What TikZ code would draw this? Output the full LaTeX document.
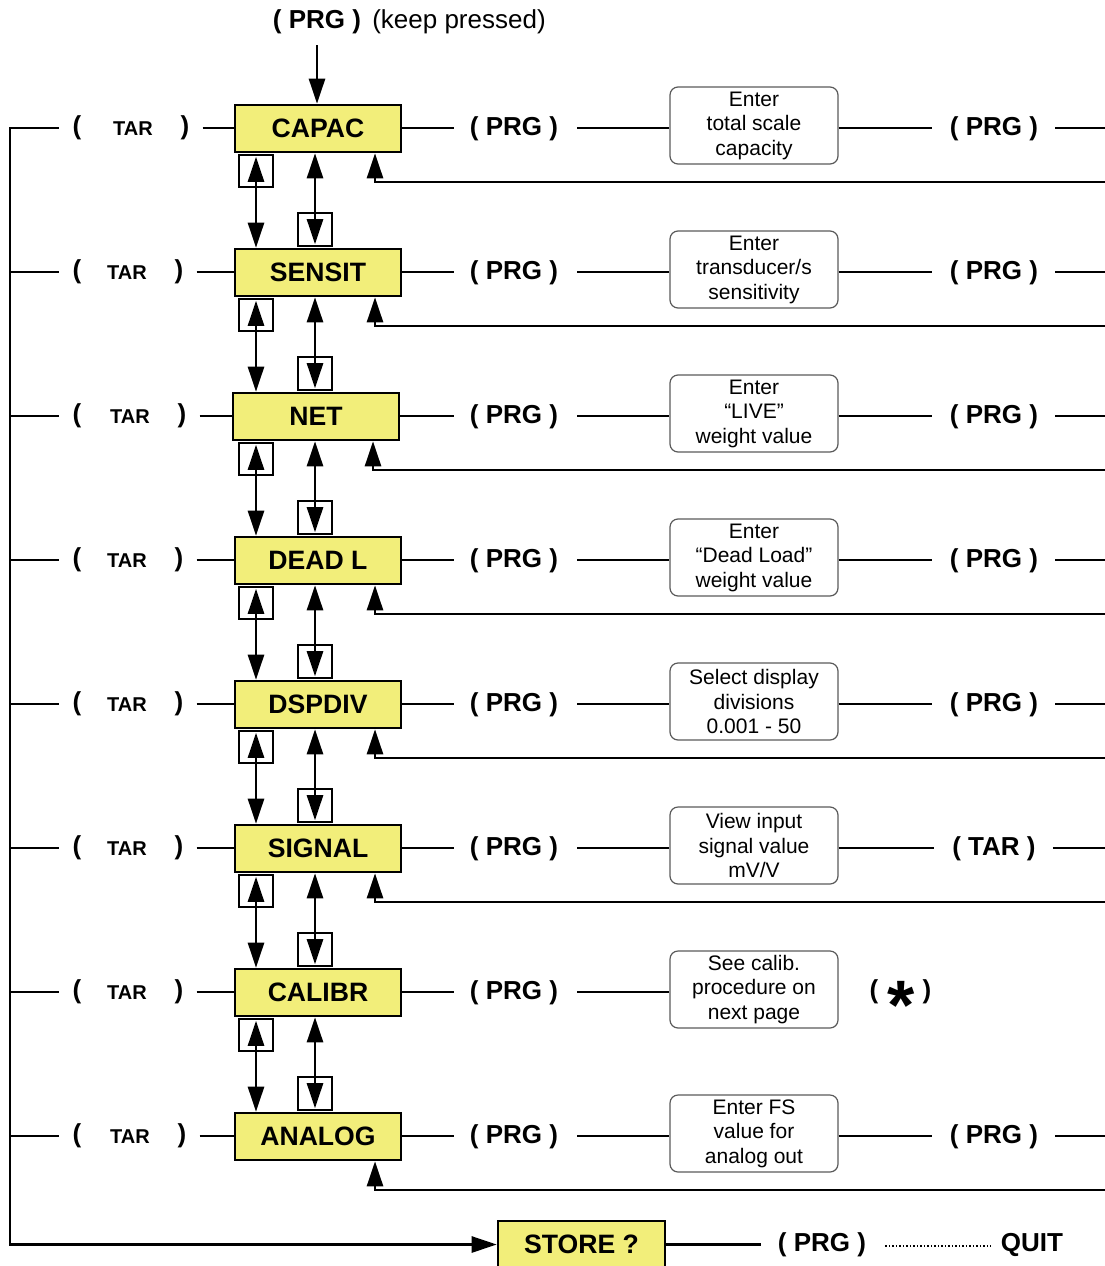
\documentclass[tikz,border=0pt]{standalone}
\usepackage{fontspec}
\setmainfont{Liberation Sans}
\usetikzlibrary{arrows.meta,calc}
\definecolor{menuyellow}{RGB}{242,238,122}
\definecolor{infoedge}{RGB}{90,90,90}
\begin{document}
\begin{tikzpicture}[x=1pt,y=-1pt,line width=2.6pt,
  tip/.style={-{Triangle[length=25pt,width=16pt]}},
  both/.style={{Triangle[length=25pt,width=16pt]}-{Triangle[length=25pt,width=16pt]}},
  menubox/.style={draw=black,line width=2.6pt,fill=menuyellow,minimum width=166pt,minimum height=47pt,inner sep=0pt,font=\fontsize{26.6}{28}\selectfont\bfseries},
  infobox/.style={draw=infoedge,line width=1.2pt,rounded corners=8pt,minimum width=168pt,minimum height=77pt,inner sep=0pt,align=center,font=\fontsize{21}{24.5}\selectfont},
  keylbl/.style={inner sep=0pt,font=\fontsize{26}{28}\selectfont\bfseries},
  tarlbl/.style={inner sep=0pt,font=\fontsize{20}{22}\selectfont\bfseries},
  sq/.style={draw=black,fill=white,line width=2.4pt,minimum width=34pt,minimum height=32pt,inner sep=0pt},
  dotline/.style={line width=1.4pt,dash pattern=on 1.4pt off 2.1pt}]
\useasboundingbox (0,0) rectangle (1105,1266);

% top entry
\node[keylbl,anchor=base] (prgtop) at (317,28) {( PRG )};
\node[inner sep=0pt,anchor=base west,font=\fontsize{26}{28}\selectfont] (keep) at (371,28) {(keep pressed)};

\foreach \i/\nm/\info/\tx/\bx in {
  1/CAPAC/{Enter\\total scale\\capacity}/133/318,
  2/SENSIT/{Enter\\transducer/s\\sensitivity}/127/318,
  3/NET/{Enter\\“LIVE”\\weight value}/130/316,
  4/DEAD L/{Enter\\“Dead Load”\\weight value}/127/318,
  5/DSPDIV/{Select display\\divisions\\0.001 - 50}/127/318,
  6/SIGNAL/{View input\\signal value\\mV/V}/127/318,
  7/CALIBR/{See calib.\\procedure on\\next page}/127/318,
  8/ANALOG/{Enter FS\\value for\\analog out}/130/318}{
  \pgfmathsetmacro\yy{128+144*(\i-1)}
  \node[menubox] (m\i) at (\bx,\yy+0.5) {\nm};
  \node[keylbl] (lp\i) at (77,\yy) {(};
  \node[tarlbl] (tar\i) at (\tx,\yy+1) {TAR};
  \node[keylbl] (rp\i) at (\tx+52,\yy) {)};
  \coordinate (bus\i) at (10,\yy);
  \draw (bus\i) -- ([xshift=-12pt]lp\i.west |- bus\i);
  \draw ([xshift=12pt]rp\i.east |- bus\i) -- (m\i.west |- bus\i);
  \node[keylbl] (pa\i) at (514,\yy+1) {( PRG )};
  \node[infobox] (inf\i) at (754,\yy-2.5) {\info};
  \draw (m\i.east |- bus\i) -- ([xshift=-15pt]pa\i.west |- bus\i);
  \draw ([xshift=18pt]pa\i.east |- bus\i) -- (inf\i.west |- bus\i);
  \ifnum\i=7
    \node[keylbl] (ast1) at (874,\yy) {(};
    \node[inner sep=0pt,anchor=base,font=\fontsize{70}{70}\selectfont\bfseries] (ast) at (901,\yy+37) {*};
    \node[keylbl] (ast2) at (927,\yy) {)};
  \else
    \node[keylbl] (pb\i) at (994,\yy+1) {\ifnum\i=6 ( TAR )\else ( PRG )\fi};
    \coordinate (re\i) at (1105,\yy);
    \draw (inf\i.east |- bus\i) -- ([xshift=-17pt]pb\i.west |- bus\i);
    \draw ([xshift=16pt]pb\i.east |- bus\i) -- (re\i);
    \coordinate (rt\i) at (1105,\yy+54);
    \draw[tip] (rt\i) -| ([xshift=57pt]m\i.south);
  \fi
}

% vertical navigation arrows
\foreach \i in {1,...,7}{
  \pgfmathsetmacro\yy{128+144*(\i-1)}
  \pgfmathtruncatemacro\j{\i+1}
  \node[sq] (ua\i) at (256,\yy+43) {};
  \draw[both] ([yshift=-3pt]ua\i.north) -- (m\j.north -| ua\i);
  \node[sq,minimum height=33pt] (da\i) at (315,\yy+144-42.5) {};
  \draw[both] (m\i.south -| da\i) -- ([yshift=3pt]da\i.south);
}

\coordinate (topstart) at (317,45);
\draw[tip] (topstart) -- (m1.north -| topstart);

% left bus and store
\node[menubox,minimum width=167pt] (store) at (581.5,1244.5) {STORE ?};
\draw[tip] (bus1) ++(48,0) -- (bus1) |- (store.west);
\node[keylbl] (prgq) at (822,1245) {( PRG )};
\node[inner sep=0pt,font=\fontsize{26}{28}\selectfont\bfseries] (quit) at (1032,1244.5) {QUIT};
\draw (store.east) -- ([xshift=-16pt]prgq.west |- store.east);
\draw[dotline] ([xshift=18pt]prgq.east |- 0,1246) -- ([xshift=-9pt]quit.west |- 0,1246);
\end{tikzpicture}
\end{document}
